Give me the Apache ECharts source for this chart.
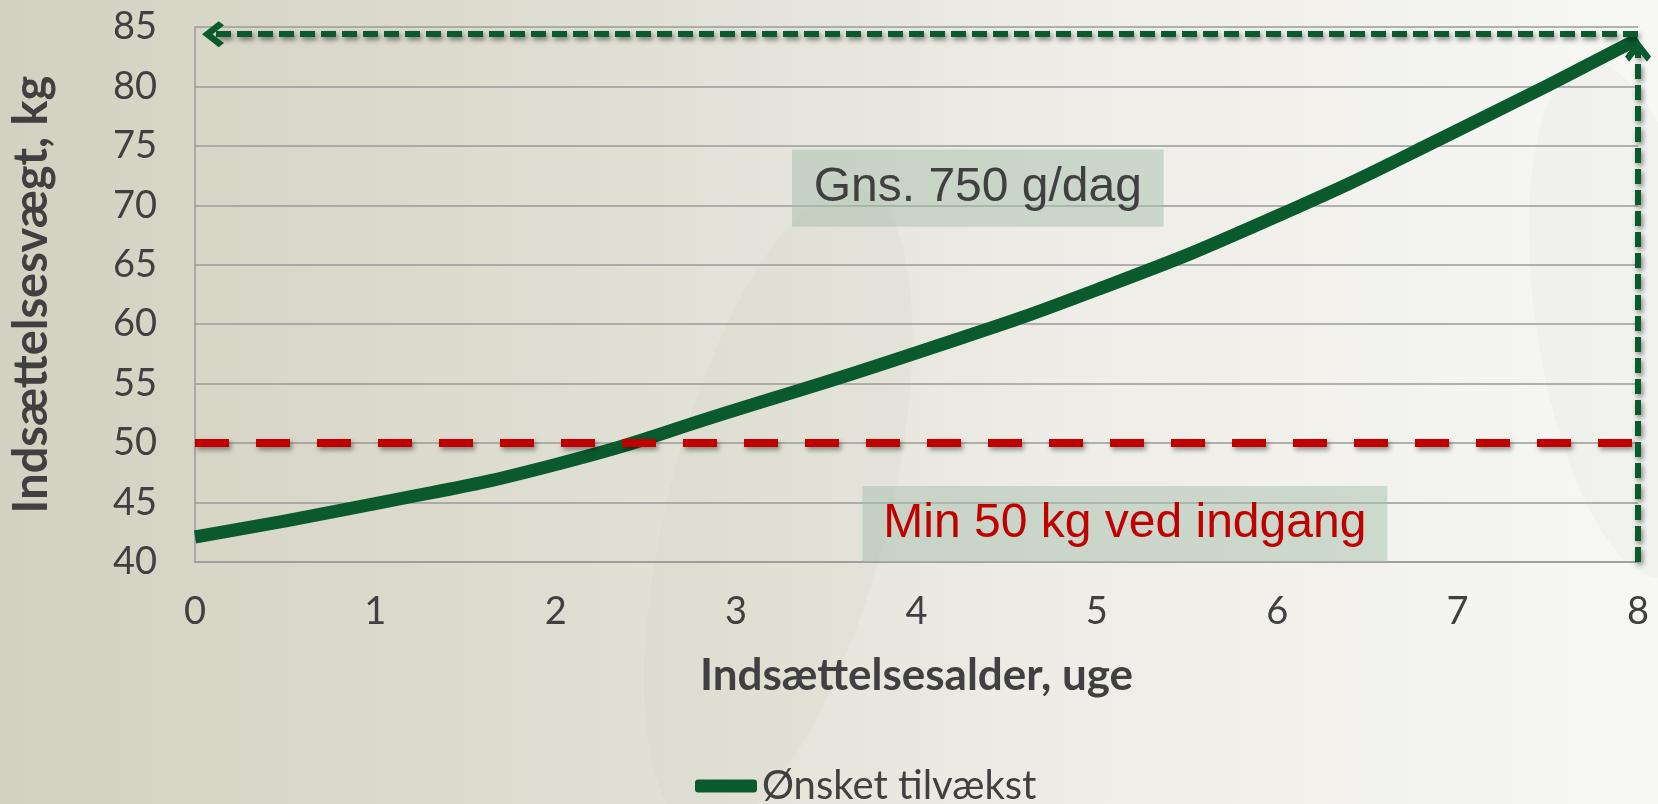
<!DOCTYPE html>
<html>
<head>
<meta charset="utf-8">
<script src="https://cdn.jsdelivr.net/npm/echarts@6/dist/echarts.min.js"></script>
<style>
  html, body { margin: 0; padding: 0; }
  #main { width: 1658px; height: 804px; }
</style>
</head>
<body>
<div id="main"></div>
<script>
// uger og vaegt aflaest fra figuren
const weeks = [0, 1, 2, 3, 4, 5, 6, 7, 8];
const weight = [42.1, 44.9, 48.2, 52.8, 57.6, 62.9, 69.1, 76.3, 84.0];
const xTicks = [0, 8, 1];      // min, max, interval
const yTicks = [40, 85, 5];

// annotationer (datakoordinater)
const minWeight = 50;
const arrowLeft = [[8, 84.4], [0.1, 84.4]];
const arrowUp = [[8, 40], [8, 83.0]];
const avgBox = [[3.31, 74.7], [5.37, 68.2]];
const minBox = [[3.70, 46.4], [6.61, 40]];

const textColor = '#404040';
const green = '#0a5a2e';
const red = '#c00000';
const chevron = 'path://M11,0 L22,11 L18.5,14.5 L11,7 L3.5,14.5 L0,11 Z';

const arrowStyle = {
  color: green, width: 6, type: [15, 6],
  shadowColor: 'rgba(0,0,0,0.45)', shadowBlur: 5, shadowOffsetX: 2, shadowOffsetY: 3
};

const options = {
  backgroundColor: {
    type: 'linear', x: 0, y: 0, x2: 1, y2: 0,
    colorStops: [
      { offset: 0, color: '#d3d1c1' },
      { offset: 0.35, color: '#dfded2' },
      { offset: 0.65, color: '#eeede7' },
      { offset: 1, color: '#f7f7f4' }
    ]
  },
  textStyle: { fontFamily: 'Lato' },
  graphic: [
    // svage dekorative blade i baggrunden
    { type: 'ellipse', z: -10, shape: { cx: 880, cy: 300, rx: 110, ry: 330 }, rotation: -0.25,
      style: { fill: 'rgba(180,176,158,0.08)' } },
    { type: 'ellipse', z: -10, shape: { cx: 1560, cy: 560, rx: 90, ry: 260 }, rotation: 0.15,
      style: { fill: 'rgba(190,186,170,0.07)' } },
    { type: 'ellipse', z: -10, shape: { cx: 1500, cy: 820, rx: 260, ry: 90 }, rotation: -0.3,
      style: { fill: 'rgba(190,186,170,0.08)' } }
  ],
  grid: { left: 195, right: 20, top: 27, bottom: 242 },
  legend: {
    left: 690, top: 761,
    icon: 'roundRect', itemWidth: 62, itemHeight: 13,
    textStyle: { color: textColor, fontSize: 40, fontFamily: 'Lato' },
    data: ['Ønsket tilvækst']
  },
  xAxis: {
    type: 'value', min: xTicks[0], max: xTicks[1], interval: xTicks[2],
    name: 'Indsættelsesalder, uge', nameLocation: 'middle', nameGap: 92,
    nameTextStyle: { color: textColor, fontSize: 44, fontWeight: 'bold' },
    axisLine: { lineStyle: { color: '#9a9a9a', width: 1.5 } },
    axisTick: { show: false },
    splitLine: { show: false },
    axisLabel: { color: textColor, fontSize: 38, margin: 31 }
  },
  yAxis: {
    type: 'value', min: yTicks[0], max: yTicks[1], interval: yTicks[2],
    name: 'Indsættelsesvægt, kg', nameLocation: 'middle', nameGap: 140,
    nameTextStyle: { color: textColor, fontSize: 47, fontWeight: 'bold' },
    axisLine: { show: true, lineStyle: { color: '#9a9a9a', width: 1.5 } },
    axisTick: { show: false },
    splitLine: { lineStyle: { color: '#9a9a9a', width: 1.5 } },
    axisLabel: { color: textColor, fontSize: 38, margin: 38 }
  },
  series: [
    {
      name: 'Ønsket tilvækst',
      type: 'line',
      data: weeks.map((w, i) => [w, weight[i]]),
      smooth: true,
      showSymbol: false,
      clip: false,
      color: green,
      lineStyle: { color: green, width: 13 },
      markArea: {
        silent: true,
        data: [
          [
            { coord: avgBox[0], itemStyle: { color: 'rgba(165,192,172,0.5)' },
              label: { show: true, position: 'inside', formatter: 'Gns. 750 g/dag', padding: [12, 0, 0, 0],
                       color: textColor, fontSize: 48, fontFamily: 'Liberation Sans' } },
            { coord: avgBox[1] }
          ],
          [
            { coord: minBox[0], itemStyle: { color: 'rgba(165,192,172,0.5)' },
              label: { show: true, position: 'inside', formatter: 'Min 50 kg ved indgang', padding: [12, 0, 0, 0],
                       color: red, fontSize: 48, fontFamily: 'Liberation Sans' } },
            { coord: minBox[1] }
          ]
        ]
      },
      markLine: {
        silent: true,
        animation: false,
        label: { show: false },
        symbol: ['none', 'none'],
        data: [
          [
            { coord: [xTicks[0], minWeight], lineStyle: {
                color: red, width: 8, type: [34, 27],
                shadowColor: 'rgba(0,0,0,0.4)', shadowBlur: 5, shadowOffsetX: 2, shadowOffsetY: 3 } },
            { coord: [xTicks[1], minWeight] }
          ],
          [
            { coord: arrowLeft[0], symbol: 'none', lineStyle: arrowStyle },
            { coord: arrowLeft[1], symbol: chevron, symbolSize: [26, 22] }
          ],
          [
            { coord: arrowUp[0], symbol: 'none', lineStyle: arrowStyle },
            { coord: arrowUp[1], symbol: chevron, symbolSize: [26, 22] }
          ]
        ]
      }
    }
  ]
};

const myChart = echarts.init(document.getElementById('main'));
myChart.setOption(options);
</script>
</body>
</html>
